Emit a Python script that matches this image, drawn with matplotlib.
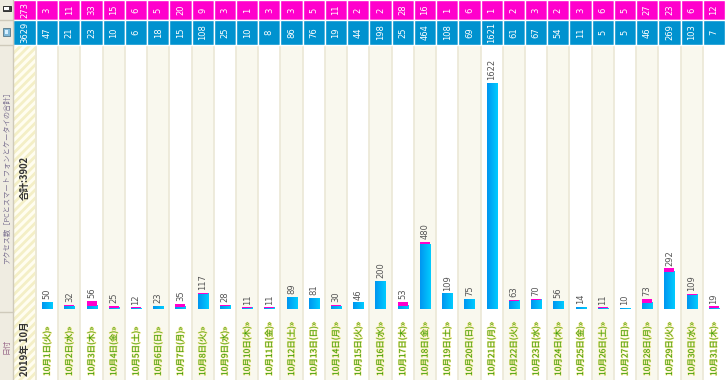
import matplotlib
matplotlib.use('Agg')
import matplotlib.pyplot as plt
import matplotlib.patheffects as pe
from matplotlib.patches import Rectangle
from matplotlib.colors import LinearSegmentedColormap
import numpy as np

plt.rcParams['font.family'] = ['Noto Sans CJK JP', 'DejaVu Sans']
plt.rcParams['hatch.linewidth'] = 2.0

# ---------------- data ----------------
year_month = '2019年 10月'
days = list(range(1, 32))
weekdays = (['火', '水', '木', '金', '土', '日', '月'] * 5)[:31]
pc = [47, 21, 23, 10, 6, 18, 15, 108, 25, 10, 8, 86, 76, 19, 44, 198, 25, 464,
      108, 69, 1621, 61, 67, 54, 11, 5, 5, 46, 269, 103, 7]
mobile = [3, 11, 33, 15, 6, 5, 20, 9, 3, 1, 3, 3, 5, 11, 2, 2, 28, 16, 1, 6,
          1, 2, 3, 2, 3, 6, 5, 27, 23, 6, 12]
row_title = 'アクセス数［PCとスマートフォンとケータイの合計］'
date_title = '日付'

totals = [p + m for p, m in zip(pc, mobile)]
sum_pc = sum(pc)
sum_mobile = sum(mobile)
grand = sum_pc + sum_mobile

# ---------------- style ----------------
MAGENTA = '#ff00cc'
BLUE = '#0092cf'
CREAM = '#f9f8ee'
SEP = '#ebe8d6'
LEFTBG = '#efece1'

W, H = 725, 380
fig = plt.figure(figsize=(W / 100, H / 100), dpi=100)
fig.patch.set_facecolor('white')

n = len(days)
left_px = 36
u = n / (W - left_px)
x0 = -0.5 - left_px * u
xl = x0 + 13 * u  # boundary between title column and total column

grid = fig.add_axes([0, 0, 1, 1])
grid.set_xlim(x0, n - 0.5)
grid.set_ylim(H, 0)
grid.axis('off')

# header rows / body rows (layout, in px from top)
R1, R2, R3, R4 = 0, 20, 45, 312

# day columns
for i in range(n):
    bg = 'white' if i % 2 == 0 else CREAM
    grid.add_patch(Rectangle((i - 0.5, R3), 1, H - R3, fc=bg, ec='none', zorder=0))
    grid.plot([i - 0.5, i - 0.5], [R3, H], color=SEP, lw=1.2, zorder=1)
    grid.add_patch(Rectangle((i - 0.5, R1), 1, R2 - R1, fc=MAGENTA, ec='white', lw=1, zorder=2))
    grid.add_patch(Rectangle((i - 0.5, R2), 1, R3 - R2, fc=BLUE, ec='white', lw=1, zorder=2))
    grid.text(i, (R1 + R2) / 2, str(mobile[i]), rotation=90, ha='center', va='center',
              color='white', fontsize=6, family='DejaVu Sans', zorder=3)
    grid.text(i, (R2 + R3) / 2, str(pc[i]), rotation=90, ha='center', va='center',
              color='white', fontsize=6, family='DejaVu Sans', zorder=3)
    lbl = f'10月{days[i]}日({weekdays[i]})»'
    grid.text(i, 376, lbl, rotation=90, ha='center', va='bottom', color='#2f9a00',
              fontsize=6.1, zorder=3,
              path_effects=[pe.withStroke(linewidth=0.9, foreground='#f7e79a')])

# total column
grid.add_patch(Rectangle((xl, R3), -0.5 - xl, H - R3, fc='#fffdf0', ec='#f4efc6',
                         lw=0, hatch='////', zorder=0))
grid.plot([-0.5, -0.5], [R3, H], color=SEP, lw=1.2, zorder=1)
grid.add_patch(Rectangle((xl, R1), -0.5 - xl, R2 - R1, fc=MAGENTA, ec='white', lw=1, zorder=2))
grid.add_patch(Rectangle((xl, R2), -0.5 - xl, R3 - R2, fc=BLUE, ec='white', lw=1, zorder=2))
xc = (xl - 0.5) / 2
grid.text(xc, (R1 + R2) / 2, str(sum_mobile), rotation=90, ha='center', va='center',
          color='white', fontsize=6, family='DejaVu Sans', zorder=3)
grid.text(xc, (R2 + R3) / 2, str(sum_pc), rotation=90, ha='center', va='center',
          color='white', fontsize=6, family='DejaVu Sans', zorder=3)
grid.text(xc, 200, f'合計:{grand}', rotation=90, ha='center', va='bottom',
          color='#333333', fontsize=6.8, fontweight='bold', zorder=3)
grid.text(xc, 376, year_month, rotation=90, ha='center', va='bottom',
          color='#333333', fontsize=6.8, fontweight='bold', zorder=3)

# left title column
grid.add_patch(Rectangle((x0, 0), xl - x0, H, fc=LEFTBG, ec='none', zorder=0))
grid.plot([xl, xl], [0, H], color='#cfcabb', lw=1, zorder=4)
for yy in (R2, R3, R4):
    grid.plot([x0, xl], [yy, yy], color='#cfcabb', lw=1, zorder=4)
xm = (x0 + xl) / 2
# icons
grid.add_patch(Rectangle((xm - 4 * u, 6), 8 * u, 5, fc='#444444', ec='#222222', lw=0.6, zorder=5))
grid.add_patch(Rectangle((xm - 2.5 * u, 7.2), 5 * u, 2.6, fc='white', ec='none', zorder=6))
grid.add_patch(Rectangle((xm - 3.5 * u, 28), 7 * u, 8, fc='#7fb8d8', ec='#557788', lw=0.6, zorder=5))
grid.add_patch(Rectangle((xm - 2 * u, 30), 4 * u, 4, fc='#d8f0ff', ec='none', zorder=6))
grid.text(xm, 176, row_title, rotation=90, ha='center', va='center', color='#7a7090',
          fontsize=5.2, zorder=5)
grid.text(xm, 346, date_title, rotation=90, ha='center', va='center', color='#9a6a8a',
          fontsize=5.5, zorder=5)

# ---------------- bars ----------------
ax = fig.add_axes([left_px / W, (H - R4) / H, (W - left_px) / W, (R4 - R3) / H])
ax.patch.set_alpha(0)
ax.axis('off')
scale = 226 / 1622  # px per unit
ylo = -3 / scale
yhi = (R4 - R3 - 3) / scale

bw = 0.45
cmap = LinearSegmentedColormap.from_list('g', ['#0095f0', '#00ccff'])
grad = np.linspace(0, 1, 64).reshape(1, -1)
x = np.arange(n)
for i in range(n):
    ax.imshow(grad, extent=(x[i] - bw / 2, x[i] + bw / 2, 0, pc[i]), aspect='auto',
              cmap=cmap, interpolation='bilinear', zorder=2)
ax.bar(x, mobile, bottom=pc, width=bw, color=MAGENTA, zorder=3)
for i in range(n):
    ax.annotate(str(totals[i]), (x[i], totals[i]), xytext=(0, 2), textcoords='offset points',
                rotation=90, ha='center', va='bottom', fontsize=6, color='#555555',
                family='DejaVu Sans')
ax.set_xlim(-0.5, n - 0.5)
ax.set_ylim(ylo, yhi)

fig.savefig('out.png', dpi=100)
